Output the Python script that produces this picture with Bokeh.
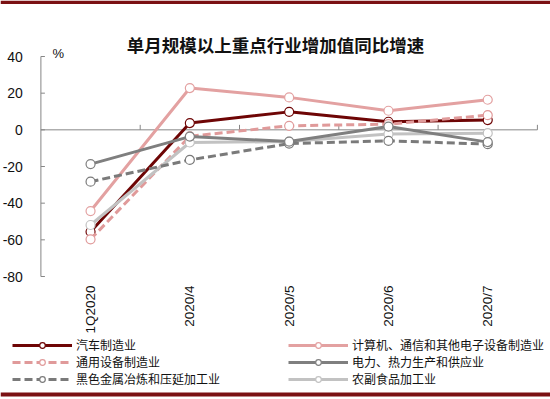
import math
from bokeh.plotting import figure
from bokeh.models import Range1d, Legend, LegendItem, Label, BoxAnnotation
from bokeh.embed import file_html
from bokeh.resources import INLINE

categories = ["1Q2020", "2020/4", "2020/5", "2020/6", "2020/7"]

auto = [-55.6, 3.7, 9.8, 4.4, 5.3]
computer = [-44.3, 22.8, 17.7, 10.4, 16.4]
general_equip = [-59.7, -3.5, 2.2, 3.1, 8.0]
power = [-18.7, -3.7, -6.4, 1.8, -6.7]
ferrous = [-28.3, -16.4, -7.5, -6.0, -7.8]
agri = [-51.9, -6.9, -6.4, -2.3, -1.8]

series_names = ["汽车制造业", "计算机、通信和其他电子设备制造业", "通用设备制造业",
                "电力、热力生产和供应业", "黑色金属冶炼和压延加工业", "农副食品加工业"]
series_values = [auto, computer, general_equip, power, ferrous, agri]
series_colors = ["#6E0505", "#E3A1A1", "#E09A9A", "#7F7F7F", "#7A7A7A", "#C2C2C2"]
series_dash = ["solid", "solid", "8 4", "solid", "8 4", "solid"]

y_ticks = [-80, -60, -40, -20, 0, 20, 40]
title_text = "单月规模以上重点行业增加值同比增速"
unit_text = "%"

# ---- layout (figure pixels) ----
W, H = 550, 399
axis_left_px = 40.4      # x position of the value axis
cat_px = 99.3            # width of one category band
y_hi_px, y_lo_px = 56.0, 276.0   # pixel rows of the top / bottom tick
ppu = (y_lo_px - y_hi_px) / (max(y_ticks) - min(y_ticks))
y_end = max(y_ticks) + y_hi_px / ppu
y_start = min(y_ticks) - (H - y_lo_px) / ppu
x_start = -axis_left_px / cat_px
x_end = (W - axis_left_px) / cat_px


def px_to_y(py):
    return max(y_ticks) - (py - y_hi_px) / ppu


def px_to_x(px):
    return (px - axis_left_px) / cat_px


p = figure(x_range=Range1d(x_start, x_end), y_range=Range1d(y_start, y_end),
           width=W, height=H, output_backend="svg", toolbar_location=None,
           x_axis_type=None, y_axis_type=None, min_border=0)
p.xgrid.visible = False
p.ygrid.visible = False
p.outline_line_color = None
p.background_fill_color = "white"
p.border_fill_color = "white"

axis_color = "#868686"
text_color = "#111111"
n = len(categories)
xpos = [i + 0.5 for i in range(n)]

# value axis line, ticks and labels
p.segment(x0=[0], y0=[min(y_ticks)], x1=[0], y1=[max(y_ticks)],
          line_color=axis_color, line_width=1)
p.segment(x0=[0] * len(y_ticks), y0=y_ticks, x1=[4 / cat_px] * len(y_ticks), y1=y_ticks,
          line_color=axis_color, line_width=1)
p.text(x=[0] * len(y_ticks), y=y_ticks, text=[str(t) for t in y_ticks],
       x_offset=-18, text_align="right", text_baseline="middle",
       text_font={"value": "Liberation Sans"}, text_font_size={"value": "14px"},
       text_color=text_color)

# zero line with category boundary ticks
p.segment(x0=[0], y0=[0], x1=[n], y1=[0], line_color=axis_color, line_width=1)
bounds = list(range(1, n + 1))
p.segment(x0=bounds, y0=[0] * n, x1=bounds, y1=[5 / ppu] * n,
          line_color=axis_color, line_width=1)

# category labels (rotated, below the plot)
p.text(x=xpos, y=[min(y_ticks)] * n, text=categories, angle=math.pi / 2,
       y_offset=9, text_align="right", text_baseline="middle",
       text_font={"value": "Liberation Sans"}, text_font_size={"value": "13.5px"},
       text_color=text_color)

draw_order = [1, 0, 2, 5, 4, 3]
renderers = {}
for i in draw_order:
    lr = p.line(xpos, series_values[i], line_color=series_colors[i], line_width=3,
                line_dash=series_dash[i])
    sr = p.scatter(xpos, series_values[i], marker="circle", size=9,
                   fill_color="white", line_color=series_colors[i], line_width=1.2)
    renderers[i] = [lr, sr]

p.add_layout(Label(x=px_to_x(52), y=px_to_y(53), text=unit_text, text_baseline="middle",
                   text_font="Liberation Sans", text_font_size="13px",
                   text_color=text_color))

p.add_layout(Label(x=px_to_x(275), y=px_to_y(44),
                   text=title_text, text_align="center", text_baseline="middle",
                   text_font="Noto Sans CJK SC", text_font_size="17.5px",
                   text_font_style="bold", text_color=text_color))


def make_legend(idx, loc):
    return Legend(items=[LegendItem(label=series_names[i], renderers=renderers[i]) for i in idx],
                  location=loc, orientation="vertical", glyph_width=60, glyph_height=14,
                  label_height=14, label_standoff=4, spacing=0, padding=0, margin=0,
                  border_line_color=None, background_fill_alpha=0,
                  label_text_font="Noto Sans CJK SC", label_text_font_size="12px",
                  label_text_color=text_color)


p.add_layout(make_legend([0, 2, 4], (12, 12)))
p.add_layout(make_legend([1, 3, 5], (288, 12)))

# top and bottom decorative rules
rule_color = "#7B1113"
p.add_layout(BoxAnnotation(bottom=px_to_y(3.5), fill_color=rule_color,
                           fill_alpha=1, line_color=None))
p.add_layout(BoxAnnotation(top=px_to_y(392), bottom=px_to_y(396), fill_color=rule_color,
                           fill_alpha=1, line_color=None))

open("out.html", "w").write(file_html(p, INLINE))
